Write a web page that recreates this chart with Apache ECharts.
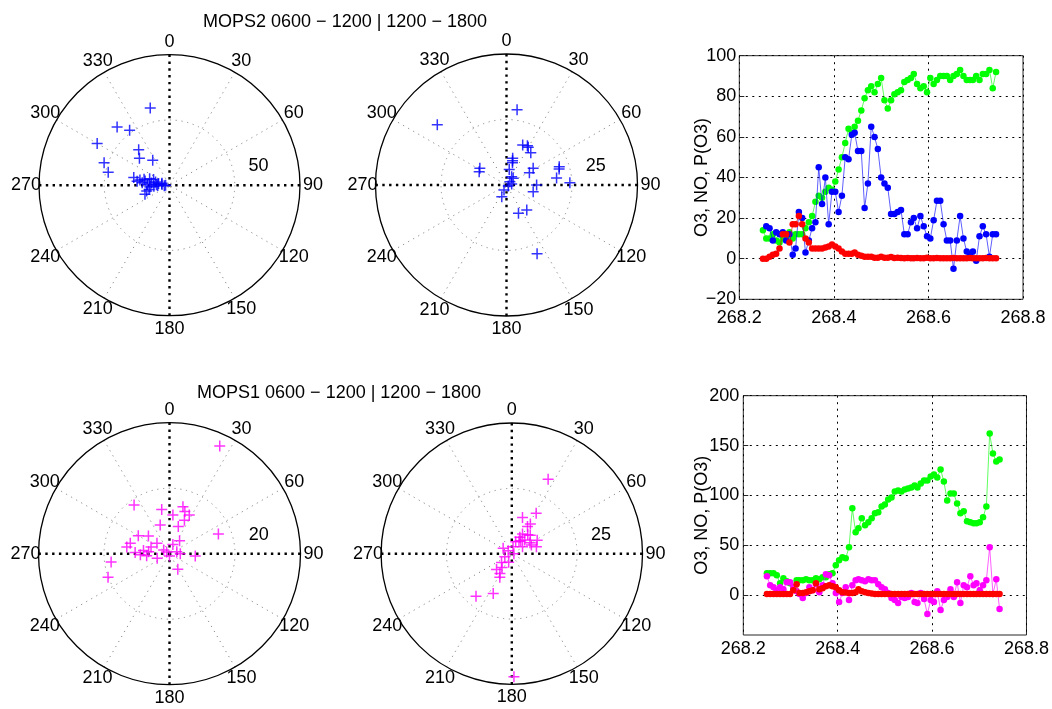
<!DOCTYPE html>
<html><head><meta charset="utf-8">
<script src="https://cdn.jsdelivr.net/npm/echarts@6/dist/echarts.min.js"></script>
<style>html,body{margin:0;padding:0;background:#fff}#c{width:1052px;height:709px}</style>
</head><body><div id="c"></div>
<script>
// ---------------- DATA ----------------
const times = [
 268.250,268.257,268.264,268.271,268.278,268.285,268.292,268.299,268.306,268.313,
 268.319,268.326,268.333,268.340,268.347,268.354,268.361,268.368,268.375,268.382,
 268.389,268.396,268.403,268.410,268.417,268.424,268.431,268.438,268.444,268.451,
 268.458,268.465,268.472,268.479,268.486,268.493,268.500,268.507,268.514,268.521,
 268.528,268.535,268.542,268.549,268.556,268.563,268.569,268.576,268.583,268.590,
 268.597,268.604,268.611,268.618,268.625,268.632,268.639,268.646,268.653,268.660,
 268.667,268.674,268.681,268.688,268.694,268.701,268.708,268.715,268.722,268.729,
 268.736,268.743];

// MOPS2 (top right)
const mops2O3 = [14,10,10,12,9,8,10,10,13,10,12,12,12,15,18,21,28,31,30,33,35,34,38,44,50,57,64,62,65,68,
 73,79,83,85,82,86,89,78,74,78,81,82,83,87,88,89,91,86,84,85,82,89,86,88,90,90,90,88,90,91,
 93,90,88,88,88,90,88,91,91,93,84,92];
const mops2NO = [0,0,1,2,2.5,5,12,12,8,17,17,21,17,10,8,5,5,5,5,5.5,6,7,6,5,3.5,2.5,2.5,2.5,3,2,
 1.5,1,1,1,0.5,0.5,1,0.5,0.5,0.8,0.3,0.5,0.3,0.2,0.3,0.2,0.2,0.3,0.2,0.2,0.5,0.2,0.2,0.3,0.2,0.2,0.2,0.2,0.3,0.2,
 0.2,0.2,0.2,0.3,0.2,0.2,0.2,0.2,0.3,0.2,0.2,0.2];
const mops2PO3 = [null,16,15,9,13,12,13,9,12,2,5,23,20,3,9,15,18,45,27,40,17,33,33,23,31,50,49,61,62,53,
 53,25,37,65,60,54,40,37,35,22,22,23,24,12,12,18,20,15,21,16,11,10,19,28.5,28.5,17,9,9,-5,9,
 21,10,3.5,2,3.5,-1,11,16,12,1,12,12];

// MOPS1 (bottom right)
const mops1O3 = [22,22,22,20,12,17,14,12,7,15,15,15,16,15,15,17,16,18,18,21,22,30,35,38,37,48,87,63,67,77,
 70,73,77,82,83,89,91,96,98,104,105,104,106,107,108,110,108,112,115,115,119,121,118,126,114,95,102,102,92,82,
 84,74,73,72,72,73,78,89,162,142,134,136];
const mops1NO = [1,1,1,1,1,1,1,1,5,11,2,2,3,4,5,12,6,7,9,10,9,8,5,3,2.5,2,2,3,6,4,
 3,2,1.5,1,1,1,1.2,1,1,1,1,1.2,1,1,1,1,1,1,1.2,1,1,1,1,1,1,1,1,1,1.2,1,
 1,1,1,1,1,1,1,1,1,1,1,1];
const mops1PO3 = [19,10,8,5,8,6,13,13,8,4,1,-3,2,8,5,11,3,10,21,20,12,2,-7,2,8,-5,10,15,16,15,
 14,16,15,15,11,8,6,2,-3,-5,-8,-2,-3,-2,2,-7,-8,2,-4,-19,-5,-7,4,-15,-5,-2,6,-2,13,-8,
 10,8,19,10,12,5,10,15,48,1,16,-14];

const mops1YTicks = [0, 50, 100, 150, 200];
const angleTickLabels = [0, 30, 60, 90, 120, 150, 180, 210, 240, 270, 300, 330];

// polar scatter: [radius, direction in degrees]
const mops2Morning = [[61,346],[60,318],[52,324],[64,300],[53,289],[48,282],[36,319],[31,312],[23,326],[28,282],
 [23,280],[19,280],[16,288],[14,277],[11,283],[8.5,279],[6,277],[3,270],[18,256],[15,265],[20,250],[12,266],
 [20,283],[10,272],[13,290],[17,272],[9,268],[21,275],[16,258],[6,285],[4,265],[25,277]];
const mops2Afternoon = [[29,8],[35,311],[16.5,22],[16.6,30],[15.4,37],[10.5,13],[8.8,15],[12,302],[11.6,296],[9.9,62],
 [21.3,71],[19.3,82],[24.2,88],[3.7,32],[1.8,46],[0.8,120],[2.1,207],[4.8,202],[11.5,90],[10.5,104],[11.7,157],
 [12.3,141],[28.7,156],[3.6,45],[2,80],[9.5,14],[17,28],[21,73],[12,58],[6,10]];
const mops1Morning = [[36.3,25],[18.4,324],[16.1,68],[13.7,350],[11.9,5],[14.9,16],[13.7,20],[13.3,27],[11.2,24],[9.2,342],
 [8.7,18],[5,38],[8.4,310],[5,310],[12.4,285],[13.2,279],[8,277],[8.9,268],[6.4,275],[2.1,302],[1,300],[2.3,75],
 [7.9,95],[5.4,152],[18,262],[20.1,249],[3.3,90],[0.7,180],[10.5,272],[7,265],[4,250],[3,20],[6,290],[11,300]];
const mops1Afternoon = [[31.7,26],[18.1,31],[14.4,16.5],[13.4,32],[8.6,28.5],[7,26],[11,62],[9.8,74],[8.1,59],[4.8,18],
 [2.7,10],[1.8,310],[3.9,302],[2.9,247],[5.2,229],[8.4,224],[8.8,211],[10.1,207],[16.8,205],[21.3,220],[47.1,179],
 [4.9,57],[7.2,43.5],[0.8,90],[8.2,66],[6,35],[9.5,40],[3.5,200],[6.5,215],[12,30],[10,45],[5.5,30]];

const titles = ['MOPS2 0600 \u2212 1200 | 1200 \u2212 1800', 'MOPS1 0600 \u2212 1200 | 1200 \u2212 1800'];
const yName = 'O3, NO, P(O3)';

// ---------------- LAYOUT ----------------
const FONT = "'Liberation Sans', Arial, Helvetica, sans-serif";
const TXT = '#000';
const polarDefs = [
  {cx:169.5, cy:185.2, R:130.5, rmax:100, data:mops2Morning,   color:'#0000ff'},
  {cx:506.5, cy:185.0, R:131,   rmax:50,  data:mops2Afternoon, color:'#0000ff'},
  {cx:169.5, cy:553.7, R:131,   rmax:40,  data:mops1Morning,   color:'#ff00ff'},
  {cx:511.8, cy:553.7, R:130.7, rmax:50,  data:mops1Afternoon, color:'#ff00ff'}
];

const polar = [], angleAxis = [], radiusAxis = [], series = [], graphic = [];
function txt(x, y, s) {
  return {type:'text', x:x, y:y, silent:true,
    style:{text:s, font:'18px ' + FONT, fill:TXT, align:'center', verticalAlign:'middle'}};
}
polarDefs.forEach((d, k) => {
  polar.push({center:[d.cx, d.cy], radius:d.R});
  angleAxis.push({
    polarIndex: 2*k, type:'value', min:0, max:360, interval:30, startAngle:90, clockwise:true,
    axisLine:{show:true, lineStyle:{color:'#000', width:1.3}},
    axisTick:{show:false}, axisLabel:{show:false},
    splitLine:{show:true, lineStyle:{color:['transparent','#8a8a8a','#8a8a8a'], width:1, type:[1.2,4.6]}}
  });
  radiusAxis.push({
    polarIndex: 2*k, type:'value', min:0, max:d.rmax, interval:d.rmax/2,
    axisLine:{show:false}, axisTick:{show:false}, axisLabel:{show:false},
    splitLine:{show:true, lineStyle:{color:['transparent','#8a8a8a','transparent'], width:1, type:[1.2,4.6]}}
  });
  polar.push({center:[d.cx, d.cy], radius:d.R});
  angleAxis.push({
    polarIndex: 2*k+1, type:'value', min:0, max:360, interval:90, startAngle:90, clockwise:true,
    axisLine:{show:false}, axisTick:{show:false}, axisLabel:{show:false},
    splitLine:{show:true, lineStyle:{color:'#000', width:2.4, type:[2.4,4.4]}}
  });
  radiusAxis.push({
    polarIndex: 2*k+1, type:'value', min:0, max:1,
    axisLine:{show:false}, axisTick:{show:false}, axisLabel:{show:false}, splitLine:{show:false}
  });
  series.push({
    type:'scatter', coordinateSystem:'polar', polarIndex:2*k, data:d.data,
    symbol:'path://M0,-1L0,1M-1,0L1,0', symbolSize:11,
    itemStyle:{color:'none', borderColor:d.color, borderWidth:1.5}, z:5
  });
  // angle tick labels, centred at 1.1 R (as in the original polar plot)
  angleTickLabels.forEach(a => {
    const t = a * Math.PI / 180, rr = 1.1 * d.R;
    graphic.push(txt(d.cx + rr*Math.sin(t), d.cy - rr*Math.cos(t), String(a)));
  });
  // ring label
  const a = 78 * Math.PI / 180, rr = 0.697 * d.R;
  graphic.push(txt(d.cx + rr*Math.sin(a), d.cy - rr*Math.cos(a), String(d.rmax/2)));
});

function lineSeries(xi, vals, color, z) {
  return {type:'line', xAxisIndex:xi, yAxisIndex:xi, data: times.map((t,i)=>[t, vals[i]]),
    symbol:'circle', symbolSize:6.5, showAllSymbol:true, connectNulls:false,
    itemStyle:{color:color, borderWidth:0}, lineStyle:{color:color, width:0.9, opacity:0.7}, z:z};
}
series.push(lineSeries(0, mops2O3, '#00ff00', 2));
series.push(lineSeries(0, mops2PO3, '#0000ff', 3));
series.push(lineSeries(0, mops2NO, '#ff0000', 4));
series.push(lineSeries(1, mops1O3, '#00ff00', 2));
series.push(lineSeries(1, mops1PO3, '#ff00ff', 3));
series.push(lineSeries(1, mops1NO, '#ff0000', 4));

const gridStyle = {color:'#000', width:1, type:[2,4.5]};
const minus = v => v < 0 ? '\u2212' + (-v) : String(v);
function xAx(gi, margin) {
  return {gridIndex:gi, type:'value', min:268.2, max:268.8, interval:0.2,
    axisLine:{show:false}, axisTick:{show:true, inside:true, length:5, lineStyle:{color:'#262626'}},
    axisLabel:{fontSize:18, color:TXT, margin:margin, fontFamily:FONT, formatter:v=>v.toFixed(1)},
    splitLine:{show:true, lineStyle:gridStyle}};
}

const option = {
  animation:false,
  backgroundColor:'#fff',
  textStyle:{fontFamily:FONT},
  title: [
    {text:titles[0], left:345, top:13, textAlign:'center', padding:0, textStyle:{fontSize:18, fontWeight:'normal', color:TXT, fontFamily:FONT}},
    {text:titles[1], left:339, top:384, textAlign:'center', padding:0, textStyle:{fontSize:18, fontWeight:'normal', color:TXT, fontFamily:FONT}}
  ],
  polar, angleAxis, radiusAxis,
  grid: [
    {left:739.3, top:55.7, width:283.7, height:243.6, show:true, borderColor:'#262626', borderWidth:1, containLabel:false},
    {left:743.3, top:395.7, width:285.7, height:239.3, show:true, borderColor:'#262626', borderWidth:1, containLabel:false}
  ],
  xAxis: [xAx(0, 10), xAx(1, 5)],
  yAxis: [
    {gridIndex:0, type:'value', min:-20, max:100, interval:20, name:yName, nameLocation:'middle', nameGap:28,
      nameMoveOverlap:false,
      nameTextStyle:{fontSize:18, color:TXT, fontFamily:FONT},
      axisLine:{show:false}, axisTick:{show:true, inside:true, length:5, lineStyle:{color:'#262626'}},
      axisLabel:{fontSize:18, color:TXT, margin:3, fontFamily:FONT, formatter:minus},
      splitLine:{show:true, lineStyle:gridStyle}},
    {gridIndex:1, type:'value', min:-40, max:200, name:yName, nameLocation:'middle', nameGap:32,
      nameMoveOverlap:false,
      nameTextStyle:{fontSize:18, color:TXT, fontFamily:FONT},
      axisLine:{show:false}, axisTick:{show:true, inside:true, length:5, customValues:mops1YTicks, lineStyle:{color:'#262626'}},
      axisLabel:{fontSize:18, color:TXT, margin:4, fontFamily:FONT, customValues:mops1YTicks, formatter:minus},
      splitLine:{show:true, lineStyle:gridStyle}}
  ],
  graphic,
  series
};
const chart = echarts.init(document.getElementById('c'), null, {renderer:'canvas'});
chart.setOption(option);
</script></body></html>
